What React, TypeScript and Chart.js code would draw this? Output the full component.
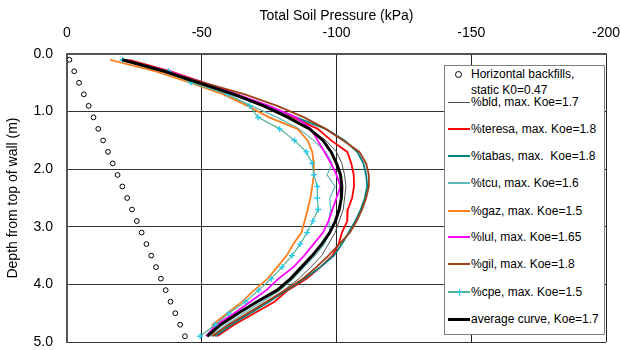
import React, { useEffect, useRef } from "react";
import { Chart, registerables } from "chart.js";
Chart.register(...registerables);

// Depth (m) of each reading
const depths = [0.1, 0.3, 0.5, 0.7, 0.9, 1.1, 1.3, 1.5, 1.7, 1.9, 2.1, 2.3, 2.5, 2.7, 2.9, 3.1, 3.3, 3.5, 3.7, 3.9, 4.1, 4.3, 4.5, 4.7, 4.9];

// Total soil pressure (kPa) per series
const backfill = [-0.89, -2.68, -4.47, -6.25, -8.04, -9.83, -11.61, -13.4, -15.19, -16.97, -18.76, -20.54, -22.33, -24.12, -25.9, -27.69, -29.48, -31.26, -33.05, -34.84, -36.62, -38.41, -40.19, -41.98, -43.76];
const bld = [-21, -37, -49, -61, -72, -82, -90, -96, -100, -102, -103, -103.5, -103, -102.5, -101, -99.5, -97, -94.5, -90.5, -86, -80.5, -74, -67, -60, -53.5];
const teresa = [-23, -38.5, -51, -63, -74, -84, -93, -98, -104, -105.5, -106.4, -106.5, -105.8, -104.2, -104, -102, -100.8, -98.5, -94, -89, -82, -77, -69.5, -62, -55.7];
const tabas = [-20, -37, -49, -61, -74, -85, -96, -103, -107.7, -110, -111, -111.4, -110.5, -109, -107, -104.5, -102, -99, -94, -88, -81.5, -75, -68, -61, -55];
const tcu = [-20, -36, -47, -59, -68.5, -78, -86, -91.5, -96, -98.4, -96.5, -99.5, -97.5, -97.8, -97.2, -97.5, -95.5, -92, -88, -84, -79, -72.5, -65.5, -59, -53];
const gaz = [-16, -33, -46, -58, -67, -75, -85.5, -89.3, -91, -91.6, -91.6, -91, -90.3, -89.3, -88.2, -87, -84, -81.5, -78, -74.5, -69.5, -65, -59.5, -54, -54.5];
const lul = [-21, -38, -51, -63, -75, -85, -90.5, -93, -95.5, -98, -100, -101.5, -100, -98.5, -97, -95, -91.5, -88, -84, -78.5, -74, -68, -62, -55.5, -51.5];
const gil = [-22, -37, -51, -66, -78, -88, -96, -102.5, -108.5, -111, -112, -112, -111, -109.5, -107.5, -105, -101, -97, -92.5, -87.5, -81, -74, -67, -60, -54];
const cpe = [-20.6, -37.7, -46, -59.7, -67.8, -70.9, -78.9, -84.4, -88.8, -91, -91.6, -92.9, -92.9, -93.2, -91.2, -89.1, -86.5, -83.5, -79.8, -75.8, -71.1, -66.2, -60, -55, -49.4];
const avg = [-20.5, -36, -49, -62, -73, -82, -90, -95, -98, -100, -101.5, -102, -101.8, -101, -99.6, -97.5, -94.5, -91, -87, -83, -78, -70.5, -63.5, -57, -52];

const labels = [
  "Horizontal backfills,\nstatic K0=0.47",
  "%bld, max. Koe=1.7",
  "%teresa, max. Koe=1.8",
  "%tabas, max.  Koe=1.8",
  "%tcu, max. Koe=1.6",
  "%gaz, max. Koe=1.5",
  "%lul, max. Koe=1.65",
  "%gil, max. Koe=1.8",
  "%cpe, max. Koe=1.5",
  "average curve, Koe=1.7",
];

const xTitle = "Total Soil Pressure (kPa)";
const yTitle = "Depth from top of wall (m)";

const FONT = "'Liberation Sans', Arial, sans-serif";

const colors = ["#000000", "#505050", "#FF0000", "#008080", "#5FB8B8", "#FF7F1E", "#FF00FF", "#A0401A", "#4FB09A", "#000000"];
const widths = [1, 1, 1.8, 1.8, 1.2, 1.8, 1.8, 1.8, 1.2, 3];
const legendLineH = [1, 1, 2, 2, 2, 2, 2, 2, 2, 3];
const legendY = [74, 102, 129, 156, 183, 211, 237, 264, 292, 319];

export default function App() {
  const ref = useRef<HTMLCanvasElement>(null);
  useEffect(() => {
    const pts = (vals: number[]) => vals.map((v, i) => ({ x: v, y: depths[i] }));
    const series = [backfill, bld, teresa, tabas, tcu, gaz, lul, gil, cpe, avg];
    const datasets: any[] = series.map((vals, i) => ({
      label: labels[i],
      data: pts(vals),
      borderColor: colors[i],
      backgroundColor: colors[i],
      borderWidth: widths[i],
      showLine: i !== 0,
      pointRadius: 0,
      tension: 0,
      order: i === 9 ? 0 : i === 0 ? 1 : 10 - i + 1,
    }));
    Object.assign(datasets[0], {
      pointRadius: 2.4,
      pointStyle: "circle",
      pointBorderColor: "#000",
      pointBackgroundColor: "#fff",
      pointBorderWidth: 1,
    });
    Object.assign(datasets[8], {
      pointRadius: 3,
      pointStyle: "cross",
      pointBorderColor: "#1ECBF0",
      pointBorderWidth: 1.3,
    });
    const tickFont = { family: FONT, size: 14 };
    const chart = new Chart(ref.current as HTMLCanvasElement, {
      type: "scatter",
      data: { datasets },
      options: {
        animation: false,
        responsive: false,
        devicePixelRatio: 1,
        layout: { padding: { left: 0, top: 0, right: 14, bottom: 8 } },
        plugins: { legend: { display: false }, tooltip: { enabled: false } },
        scales: {
          x: {
            type: "linear",
            position: "top",
            min: -200,
            max: 0,
            reverse: true,
            ticks: { stepSize: 50, padding: 12, font: tickFont, color: "#000" },
            grid: { color: "#222", lineWidth: 1, drawTicks: false },
            border: { color: "#555", width: 2 },
            title: { display: true, text: xTitle, font: tickFont, color: "#000", padding: { top: 8, bottom: 0 } },
            afterFit: (s: any) => { s.height = 54; s.paddingLeft = 0; s.paddingRight = 0; },
          },
          y: {
            type: "linear",
            min: 0,
            max: 5,
            reverse: true,
            ticks: { stepSize: 1, padding: 14, font: tickFont, color: "#000", callback: (v: any) => Number(v).toFixed(1) },
            grid: { color: "#333", lineWidth: 1, drawTicks: false },
            border: { color: "#555", width: 2 },
            title: { display: true, text: yTitle, font: tickFont, color: "#000", padding: { top: 5, bottom: 0 } },
            afterFit: (s: any) => { s.width = 67; s.paddingTop = 0; s.paddingBottom = 0; },
          },
        },
      } as any,
    });
    return () => chart.destroy();
  }, []);

  return (
    <div style={{ position: "fixed", left: 0, top: 0, width: 620, height: 350, background: "#fff" }}>
      <canvas ref={ref} width={620} height={350} style={{ display: "block" }} />
      <div
        style={{
          position: "absolute",
          left: 444,
          top: 65,
          width: 161,
          height: 270,
          border: "1px solid #808080",
          background: "#fff",
          boxSizing: "border-box",
          fontFamily: FONT,
          fontSize: 12,
          color: "#000",
        }}
      >
        {labels.map((lab, i) => {
          const yc = legendY[i] - 66;
          const lines = lab.split("\n");
          return (
            <React.Fragment key={i}>
              {i === 0 ? (
                <div
                  style={{
                    position: "absolute",
                    left: 10,
                    top: yc - 3,
                    width: 5,
                    height: 5,
                    border: "1px solid #000",
                    borderRadius: "50%",
                    background: "#fff",
                  }}
                />
              ) : (
                <div
                  style={{
                    position: "absolute",
                    left: 3,
                    top: yc - Math.floor(legendLineH[i] / 2),
                    width: 22,
                    height: legendLineH[i],
                    background: colors[i],
                  }}
                />
              )}
              {i === 8 && (
                <div style={{ position: "absolute", left: 11, top: yc - 3, width: 7, height: 7 }}>
                  <div style={{ position: "absolute", left: 3, top: 0, width: 1, height: 7, background: "#1ECBF0" }} />
                  <div style={{ position: "absolute", left: 0, top: 3, width: 7, height: 1, background: "#1ECBF0" }} />
                </div>
              )}
              {lines.map((t, j) => (
                <div
                  key={j}
                  style={{
                    position: "absolute",
                    left: 26,
                    top: yc - 7 + j * 16,
                    lineHeight: "14px",
                    whiteSpace: "pre",
                  }}
                >
                  {t}
                </div>
              ))}
            </React.Fragment>
          );
        })}
      </div>
    </div>
  );
}
